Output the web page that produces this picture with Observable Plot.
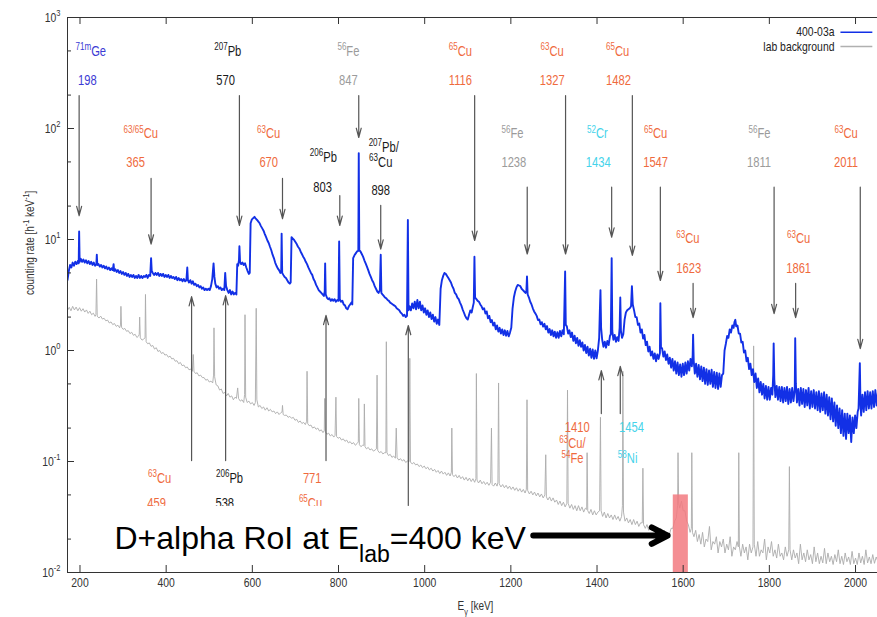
<!DOCTYPE html>
<html>
<head>
<meta charset="utf-8">
<script src="https://cdn.jsdelivr.net/npm/d3@7"></script>
<script src="https://cdn.jsdelivr.net/npm/@observablehq/plot@0.6"></script>
<style>
  html, body { margin: 0; padding: 0; background: #fff; }
</style>
</head>
<body>
<div id="chart"></div>
<script>
// Gamma spectrum of run 400-03a vs. laboratory background, [E (keV), rate (h^-1 keV^-1)]
const run400 = [[171,4.3],[174,5.2],[177,5.9],[180,5.6],[183,6.2],[186,5.8],[189,6.3],[192,6.0],[195,6.4],[197,6.1],[198,11.8],[199.2,6.3],[202,6.7],[205,6.3],[208,6.6],[211,6.2],[214,6.5],[217,6.1],[220,6.4],[223,6.0],[226,6.3],[229,5.9],[232,6.2],[235,5.8],[238,6.0],[239,7.3],[240.2,5.9],[243,6.0],[246,5.7],[249,5.9],[252,5.6],[255,5.8],[258,5.5],[261,5.7],[264,5.4],[267,5.6],[270,5.3],[273,5.5],[276,5.3],[278,6.0],[279.3,5.2],[282,5.4],[285,5.1],[288,5.3],[291,5.0],[294,5.2],[297,4.9],[300,5.1],[303,4.8],[306,5.0],[309,4.7],[312,4.9],[315,4.6],[318,4.8],[321,4.6],[324,4.8],[327,4.5],[330,4.7],[333,4.5],[336,4.8],[339,4.5],[342,4.7],[345,4.5],[348,4.7],[351,4.6],[354,4.8],[357,4.5],[360,4.8],[363,4.7],[365,6.8],[366.5,5.2],[369,5.0],[372,4.8],[375,5.0],[378,4.8],[381,5.0],[384,4.7],[387,4.9],[390,4.7],[393,4.9],[396,4.6],[399,4.8],[402,4.6],[405,4.8],[408,4.5],[411,4.7],[414,4.5],[417,4.6],[420,4.4],[423,4.6],[426,4.3],[429,4.5],[432,4.3],[435,4.4],[438,4.2],[441,4.4],[444,4.2],[447,4.3],[449,5.6],[450.5,4.3],[453,4.1],[456,4.3],[459,4.0],[462,4.2],[465,3.9],[468,4.0],[471,3.8],[474,3.9],[477,3.7],[480,3.8],[483,3.6],[486,3.7],[489,3.5],[492,3.6],[495,3.5],[498,3.6],[501,3.5],[504,3.8],[507,4.4],[510,6.1],[512,4.6],[514,4.0],[517,3.7],[520,3.8],[523,3.6],[526,3.7],[529,3.5],[532,3.6],[535,3.5],[537,5.0],[539,3.8],[542,3.5],[545,3.3],[548,3.5],[551,3.2],[554,3.4],[557,3.2],[560,3.3],[563,3.2],[565,6.0],[567,5.8],[569,6.5],[570,8.7],[571.5,6.3],[574,6.0],[577,6.2],[580,5.9],[583,6.1],[586,5.6],[589,5.2],[592,4.9],[594,5.0],[596,14.0],[599,15.2],[602,15.6],[605,16.0],[608,15.4],[611,15.0],[614,14.5],[617,14.0],[620,13.2],[623,12.6],[626,12.0],[629,11.2],[632,10.5],[635,9.8],[638,9.3],[641,8.6],[644,8.0],[647,7.3],[650,6.8],[653,6.2],[656,5.8],[659,5.5],[662,5.3],[665,5.0],[667,5.1],[668,11.3],[669.3,5.0],[672,4.8],[675,4.6],[678,4.5],[681,4.3],[684,4.1],[687,4.0],[689,4.1],[691,10.5],[694,10.2],[697,9.9],[700,9.5],[703,9.1],[706,8.6],[709,8.3],[712,7.8],[715,7.4],[718,7.0],[721,6.7],[724,6.3],[727,6.0],[730,5.6],[733,5.3],[736,5.0],[739,4.8],[742,4.4],[745,4.2],[748,3.9],[751,3.7],[754,3.5],[757,3.4],[760,3.3],[763,3.2],[766,3.1],[768,3.4],[769,6.1],[770.3,3.2],[773,3.0],[776,2.9],[779,2.95],[782,2.8],[785,2.9],[788,2.8],[791,2.9],[794,2.75],[797,2.85],[800,2.8],[801.5,9.6],[803,2.9],[806,2.75],[809,2.8],[812,2.6],[815,2.55],[818,2.4],[821,2.35],[824,2.5],[827,2.6],[830,2.7],[832,2.6],[834,6.8],[837,7.2],[840,7.5],[843,7.8],[846,7.9],[847,60],[848.3,8.0],[851,7.8],[854,7.4],[857,7.0],[860,6.5],[863,6.1],[866,5.7],[869,5.3],[872,4.9],[875,4.6],[878,4.3],[881,4.1],[884,3.8],[887,3.6],[890,3.4],[893,3.3],[896,3.5],[898,7.3],[899.5,3.3],[902,3.2],[905,3.1],[908,3.0],[911,2.95],[914,2.85],[917,2.8],[920,2.7],[923,2.65],[926,2.6],[929,2.55],[932,2.5],[935,2.4],[938,2.35],[941,2.3],[944,2.2],[947,2.15],[950,2.05],[953,2.1],[956,2.0],[959,2.05],[961,15],[962.5,2.3],[965,2.5],[968,2.3],[971,2.65],[974,2.4],[977,2.75],[980,2.35],[983,2.85],[986,2.4],[989,2.75],[992,2.3],[995,2.55],[998,2.2],[1001,2.4],[1004,2.1],[1007,2.3],[1010,2.0],[1013,2.2],[1016,1.92],[1019,2.1],[1022,1.82],[1025,2.0],[1028,1.74],[1031,1.9],[1034,1.7],[1037,3.6],[1040,4.3],[1043,4.7],[1046,5.0],[1049,4.9],[1052,4.7],[1055,4.5],[1058,4.3],[1061,4.1],[1064,3.8],[1067,3.6],[1070,3.3],[1073,3.2],[1076,3.0],[1079,2.9],[1082,2.7],[1085,2.55],[1088,2.35],[1091,2.2],[1094,2.05],[1097,1.95],[1100,1.9],[1103,2.1],[1106,2.3],[1109,2.2],[1112,2.5],[1114,2.7],[1115.5,7.0],[1117,3.0],[1120,2.9],[1123,2.8],[1126,2.75],[1129,2.6],[1132,2.5],[1135,2.35],[1138,2.4],[1141,2.15],[1144,2.25],[1147,1.95],[1150,2.05],[1153,1.8],[1156,1.88],[1159,1.68],[1162,1.78],[1165,1.55],[1168,1.68],[1171,1.48],[1174,1.6],[1177,1.42],[1180,1.55],[1183,1.38],[1186,1.52],[1189,1.36],[1192,1.5],[1195,1.34],[1198,1.45],[1201,1.6],[1204,2.4],[1207,3.0],[1210,3.4],[1213,3.7],[1216,3.9],[1219,3.85],[1222,3.8],[1225,3.6],[1228,3.5],[1231,3.4],[1234,3.3],[1236,3.4],[1237.5,4.65],[1239,3.2],[1242,3.0],[1245,2.75],[1248,2.6],[1251,2.4],[1254,2.25],[1257,2.15],[1260,2.05],[1263,1.88],[1266,1.9],[1269,1.72],[1272,1.8],[1275,1.64],[1278,1.74],[1281,1.55],[1284,1.66],[1287,1.45],[1290,1.56],[1293,1.38],[1296,1.52],[1299,1.34],[1302,1.48],[1305,1.3],[1308,1.46],[1311,1.3],[1314,1.5],[1317,1.34],[1320,1.52],[1323,1.4],[1326,5.15],[1327.5,1.7],[1330,1.65],[1333,1.42],[1336,1.52],[1339,1.32],[1342,1.45],[1345,1.22],[1348,1.36],[1351,1.16],[1354,1.3],[1357,1.1],[1360,1.24],[1363,1.08],[1366,1.18],[1369,1.0],[1372,1.12],[1375,0.95],[1378,1.08],[1381,0.9],[1384,1.04],[1387,0.86],[1390,1.02],[1393,0.84],[1396,1.0],[1399,0.85],[1402,1.0],[1405,1.3],[1406.5,2.2],[1408,3.5],[1409.5,1.6],[1412,1.25],[1415,1.08],[1418,1.2],[1421,1.06],[1424,1.22],[1427,1.12],[1430,1.35],[1432,1.4],[1434,6.8],[1435.5,1.5],[1438,1.25],[1441,1.38],[1444,1.2],[1447,1.32],[1450,1.22],[1452.5,1.6],[1454,3.0],[1455.5,1.5],[1458,1.3],[1461,1.4],[1464,1.9],[1467,2.2],[1470,2.3],[1473,2.35],[1476,2.4],[1479,2.5],[1481,3.8],[1483,2.6],[1486,2.3],[1489,2.0],[1492,2.0],[1495,1.7],[1498,1.75],[1501,1.45],[1504,1.55],[1507,1.28],[1510,1.38],[1513,1.12],[1516,1.2],[1519,0.98],[1522,1.08],[1525,0.9],[1528,0.98],[1531,0.84],[1534,0.94],[1537,0.8],[1540,0.92],[1543,0.84],[1546,0.95],[1547,2.67],[1548.5,1.05],[1551,1.05],[1554,0.88],[1557,0.98],[1560,0.82],[1563,0.92],[1566,0.76],[1569,0.86],[1572,0.7],[1575,0.84],[1578,0.66],[1581,0.8],[1584,0.62],[1587,0.78],[1590,0.6],[1593,0.75],[1596,0.58],[1599,0.76],[1602,0.6],[1605,0.78],[1608,0.62],[1611,0.8],[1614,0.66],[1617,0.84],[1620,0.72],[1622,0.9],[1623,1.39],[1624.5,0.8],[1627,0.62],[1630,0.76],[1633,0.58],[1636,0.74],[1639,0.55],[1642,0.72],[1645,0.53],[1648,0.7],[1651,0.5],[1654,0.68],[1657,0.49],[1660,0.66],[1663,0.5],[1666,0.67],[1669,0.47],[1672,0.64],[1675,0.46],[1678,0.63],[1681,0.45],[1684,0.62],[1687,0.47],[1690,0.6],[1693,0.62],[1696,1.0],[1699,1.15],[1702,1.35],[1705,1.3],[1708,1.55],[1711,1.45],[1714,1.68],[1717,1.6],[1719,1.8],[1721,1.89],[1723,1.65],[1726,1.68],[1729,1.42],[1732,1.42],[1735,1.18],[1738,1.2],[1741,0.96],[1744,1.0],[1747,0.8],[1750,0.86],[1753,0.68],[1756,0.76],[1759,0.6],[1762,0.68],[1765,0.52],[1768,0.62],[1771,0.46],[1774,0.56],[1777,0.42],[1780,0.52],[1783,0.4],[1786,0.5],[1789,0.37],[1792,0.48],[1795,0.36],[1798,0.47],[1801,0.36],[1804,0.46],[1807,0.4],[1809,0.6],[1810,1.16],[1811.5,0.55],[1814,0.38],[1817,0.48],[1820,0.36],[1823,0.47],[1826,0.35],[1829,0.47],[1832,0.34],[1835,0.46],[1838,0.35],[1841,0.47],[1844,0.33],[1847,0.45],[1850,0.34],[1853,0.46],[1856,0.35],[1859,0.45],[1860,1.29],[1861.5,0.5],[1864,0.34],[1867,0.45],[1870,0.32],[1873,0.46],[1876,0.33],[1879,0.45],[1882,0.31],[1885,0.44],[1888,0.32],[1891,0.46],[1894,0.3],[1897,0.43],[1900,0.31],[1903,0.44],[1906,0.3],[1909,0.42],[1912,0.29],[1915,0.43],[1918,0.28],[1921,0.41],[1924,0.29],[1927,0.42],[1930,0.27],[1933,0.4],[1936,0.26],[1939,0.38],[1942,0.24],[1945,0.37],[1948,0.23],[1951,0.34],[1954,0.21],[1957,0.32],[1960,0.2],[1963,0.3],[1966,0.18],[1969,0.29],[1972,0.17],[1975,0.27],[1978,0.16],[1981,0.27],[1984,0.18],[1987,0.26],[1990,0.15],[1993,0.25],[1996,0.18],[1999,0.26],[2002,0.2],[2005,0.28],[2007,0.3],[2010,0.77],[2011.5,0.33],[2013,0.26],[2016,0.4],[2019,0.28],[2022,0.42],[2025,0.29],[2028,0.43],[2031,0.3],[2034,0.42],[2037,0.3],[2040,0.43],[2043,0.31],[2046,0.44],[2049,0.32],[2052,0.42]];

const labBackground = [[171,2.3],[175,2.45],[179,2.28],[183,2.5],[187,2.32],[191,2.46],[195,2.28],[199,2.43],[203,2.26],[207,2.38],[211,2.22],[215,2.32],[219,2.16],[223,2.26],[227,2.1],[231,2.17],[235,2.03],[237,2.1],[238.5,4.4],[240,2.04],[244,1.96],[248,2.04],[252,1.92],[256,1.95],[260,1.85],[264,1.88],[268,1.77],[272,1.81],[276,1.71],[280,1.75],[284,1.65],[288,1.69],[292,1.6],[294,1.7],[295,2.5],[296.5,1.62],[300,1.55],[304,1.58],[308,1.49],[312,1.51],[316,1.42],[320,1.46],[324,1.37],[328,1.4],[332,1.31],[336,1.35],[337.5,1.4],[338.5,2.0],[340,1.3],[344,1.24],[348,1.27],[351,1.3],[352,3.2],[353.5,1.2],[357,1.15],[361,1.17],[365,1.09],[369,1.11],[373,1.03],[377,1.06],[381,0.98],[385,1.0],[389,0.94],[393,0.96],[397,0.91],[401,0.92],[405,0.87],[409,0.89],[413,0.84],[417,0.85],[421,0.8],[425,0.81],[429,0.76],[433,0.78],[437,0.73],[441,0.74],[445,0.7],[449,0.71],[453,0.67],[457,0.68],[461,0.65],[463,0.92],[464.5,0.65],[468,0.62],[472,0.63],[476,0.59],[480,0.6],[484,0.57],[488,0.57],[492,0.54],[496,0.55],[500,0.52],[504,0.53],[508,0.51],[510,0.6],[511,1.6],[512.5,0.58],[516,0.49],[520,0.48],[524,0.44],[528,0.45],[532,0.41],[536,0.42],[540,0.39],[544,0.41],[548,0.38],[552,0.39],[556,0.36],[560,0.38],[563,0.37],[566,0.46],[568,0.37],[572,0.35],[576,0.36],[580,0.34],[582,0.4],[583,2.1],[584.5,0.38],[588,0.34],[592,0.35],[596,0.33],[600,0.34],[604,0.32],[607,0.34],[609,2.4],[610.5,0.36],[614,0.31],[618,0.32],[622,0.3],[626,0.31],[630,0.29],[634,0.305],[638,0.285],[642,0.295],[646,0.28],[650,0.285],[654,0.27],[658,0.28],[662,0.265],[666,0.275],[669,0.28],[670,0.32],[671.5,0.265],[675,0.26],[679,0.262],[683,0.25],[687,0.255],[691,0.245],[695,0.25],[699,0.235],[703,0.24],[707,0.225],[711,0.232],[715,0.22],[719,0.225],[723,0.215],[726,0.23],[727,0.65],[728.5,0.22],[732,0.21],[736,0.213],[740,0.2],[744,0.205],[748,0.195],[752,0.2],[756,0.188],[760,0.193],[764,0.182],[767,0.19],[768,0.37],[769.5,0.185],[773,0.176],[777,0.18],[781,0.17],[785,0.175],[789,0.166],[792,0.172],[794,0.38],[795.5,0.168],[799,0.162],[803,0.165],[807,0.156],[811,0.16],[815,0.152],[819,0.156],[823,0.147],[827,0.151],[831,0.144],[835,0.148],[839,0.14],[843,0.145],[846,0.15],[847,0.37],[848.5,0.142],[852,0.136],[856,0.14],[859,0.14],[860,0.33],[861.5,0.136],[865,0.13],[869,0.134],[873,0.127],[877,0.13],[881,0.124],[885,0.127],[888,0.13],[889.5,0.6],[891,0.126],[895,0.12],[899,0.123],[903,0.117],[907,0.12],[910,0.12],[911,1.2],[912.5,0.12],[916,0.113],[920,0.116],[924,0.109],[928,0.112],[932,0.107],[934,0.2],[936,0.108],[940,0.103],[944,0.106],[948,0.101],[952,0.104],[956,0.098],[960,0.101],[964,0.1],[965.5,0.85],[967,0.099],[971,0.095],[975,0.098],[979,0.093],[983,0.095],[987,0.09],[991,0.093],[995,0.088],[999,0.091],[1003,0.086],[1007,0.089],[1011,0.084],[1015,0.087],[1019,0.082],[1023,0.085],[1027,0.08],[1031,0.083],[1035,0.078],[1039,0.082],[1043,0.077],[1047,0.08],[1051,0.075],[1055,0.079],[1059,0.074],[1062,0.08],[1063,0.2],[1064.5,0.076],[1068,0.073],[1072,0.076],[1076,0.071],[1080,0.075],[1084,0.07],[1088,0.073],[1092,0.068],[1096,0.072],[1100,0.067],[1104,0.071],[1108,0.066],[1112,0.07],[1116,0.065],[1119,0.07],[1120,0.62],[1121.5,0.068],[1125,0.064],[1129,0.068],[1133,0.063],[1137,0.066],[1141,0.062],[1145,0.065],[1149,0.061],[1153,0.065],[1155,0.2],[1156.5,0.062],[1160,0.06],[1164,0.064],[1168,0.06],[1170,0.065],[1171.5,0.51],[1173,0.063],[1177,0.059],[1181,0.062],[1185,0.058],[1189,0.061],[1193,0.057],[1197,0.06],[1201,0.056],[1205,0.059],[1209,0.055],[1213,0.058],[1217,0.054],[1221,0.057],[1225,0.053],[1229,0.056],[1233,0.052],[1236,0.056],[1237.5,0.36],[1239,0.055],[1243,0.051],[1247,0.054],[1251,0.05],[1255,0.053],[1259,0.049],[1263,0.052],[1267,0.048],[1271,0.051],[1275,0.047],[1279,0.05],[1281,0.115],[1282.5,0.048],[1286,0.045],[1290,0.048],[1294,0.044],[1298,0.047],[1302,0.043],[1306,0.045],[1310,0.041],[1314,0.044],[1318,0.04],[1322,0.043],[1326,0.039],[1330,0.042],[1331.5,0.44],[1333,0.042],[1337,0.038],[1341,0.041],[1345,0.037],[1349,0.04],[1353,0.036],[1357,0.04],[1361,0.036],[1365,0.039],[1369,0.035],[1373,0.038],[1376,0.037],[1377,0.12],[1378.5,0.036],[1382,0.034],[1386,0.037],[1390,0.033],[1394,0.036],[1398,0.033],[1402,0.035],[1406,0.036],[1408,0.25],[1409.5,0.036],[1413,0.032],[1417,0.035],[1421,0.031],[1425,0.034],[1429,0.031],[1433,0.033],[1437,0.03],[1441,0.033],[1445,0.03],[1449,0.032],[1453,0.029],[1457,0.032],[1459,0.04],[1460,0.65],[1461.5,0.035],[1465,0.029],[1469,0.031],[1473,0.028],[1477,0.03],[1481,0.027],[1485,0.03],[1489,0.027],[1493,0.029],[1497,0.026],[1501,0.028],[1505,0.028],[1506.5,0.087],[1508,0.027],[1512,0.025],[1516,0.027],[1520,0.024],[1524,0.026],[1528,0.024],[1532,0.026],[1536,0.023],[1540,0.025],[1544,0.022],[1548,0.025],[1552,0.022],[1556,0.024],[1560,0.021],[1564,0.023],[1568,0.022],[1572,0.025],[1576,0.025],[1580,0.029],[1584,0.031],[1587,0.04],[1588,0.12],[1589.5,0.042],[1592,0.038],[1596,0.044],[1600,0.036],[1604,0.036],[1608,0.029],[1612,0.027],[1616,0.023],[1619,0.025],[1620,0.12],[1621.5,0.023],[1625,0.021],[1629,0.024],[1633,0.019],[1637,0.022],[1641,0.018],[1645,0.023],[1649,0.017],[1653,0.02],[1657,0.019],[1661,0.026],[1665,0.016],[1669,0.019],[1673,0.018],[1677,0.021],[1681,0.015],[1685,0.019],[1689,0.017],[1693,0.02],[1697,0.015],[1701,0.018],[1705,0.016],[1709,0.021],[1713,0.014],[1717,0.017],[1721,0.016],[1725,0.019],[1728,0.017],[1729,0.12],[1730.5,0.017],[1734,0.014],[1738,0.018],[1742,0.015],[1746,0.017],[1750,0.013],[1754,0.018],[1758,0.015],[1762,0.017],[1763.5,1.1],[1765,0.018],[1769,0.014],[1773,0.019],[1777,0.014],[1781,0.016],[1785,0.015],[1789,0.02],[1793,0.013],[1797,0.017],[1801,0.015],[1805,0.019],[1809,0.014],[1813,0.016],[1817,0.0135],[1821,0.018],[1825,0.014],[1829,0.015],[1833,0.013],[1837,0.017],[1841,0.014],[1845,0.016],[1846.5,0.09],[1848,0.016],[1852,0.013],[1856,0.016],[1860,0.0135],[1864,0.015],[1868,0.012],[1872,0.018],[1876,0.013],[1880,0.015],[1884,0.0125],[1888,0.016],[1892,0.013],[1896,0.0145],[1900,0.012],[1904,0.017],[1908,0.0125],[1912,0.015],[1916,0.012],[1920,0.014],[1924,0.0122],[1928,0.0165],[1932,0.012],[1936,0.015],[1940,0.0125],[1944,0.014],[1948,0.0118],[1952,0.0145],[1956,0.0125],[1960,0.016],[1964,0.012],[1968,0.014],[1972,0.0118],[1976,0.015],[1980,0.0125],[1984,0.0138],[1988,0.0118],[1992,0.0155],[1996,0.012],[2000,0.0135],[2004,0.0118],[2008,0.015],[2012,0.0122],[2016,0.014],[2020,0.0118],[2024,0.016],[2028,0.0122],[2032,0.0138],[2036,0.012],[2040,0.0145],[2044,0.0121],[2048,0.0138],[2052,0.0125]];

// Axis ticks
const xTicks = [200, 400, 600, 800, 1000, 1200, 1400, 1600, 1800, 2000];
const yDecades = [0.01, 0.1, 1, 10, 100, 1000];
const yMinor = [0.02, 0.05, 0.2, 0.5, 2, 5, 20, 50, 200, 500];

// Line identifications: arrows pointing down onto the spectrum [E (keV), from rate, to rate]
const downArrows = [[198,198,16.4],[570,198,13.4],[847,198,83],[1116,198,9.8],[1327,198,7.4],[1482,198,7.2],
  [365,35.5,9.1],[670,35.5,15.4],[803,24.9,13.4],[898,20.3,8.2],[1238,29.6,7.4],[1434,29.6,10.5],
  [1547,29.6,4.27],[1811,29.6,2.15],[2011,29.6,1.04],[1623,4.02,1.98],[1861,4.02,1.98]];
// Arrows pointing up from labels below the spectrum [E (keV), from rate, to rate]
const upArrows = [[459,0.102,3.06],[538,0.102,3.12],[771,0.102,2.07],[962,0.04,1.68],[1410,0.27,0.66],[1454,0.27,0.72]];

// Label texts [text, E position (keV), rate position, colour group]
const lineLabels = [
  ["^{71m}Ge",225,494,"ge"],["198",217,270,"ge"],
  ["^{207}Pb",543,494,"pb"],["570",538,270,"pb"],
  ["^{56}Fe",823,494,"fe"],["847",823,270,"fe"],
  ["^{65}Cu",1083,494,"cu"],["1116",1083,270,"cu"],
  ["^{63}Cu",1296,494,"cu"],["1327",1296,270,"cu"],
  ["^{65}Cu",1448,494,"cu"],["1482",1450,270,"cu"],
  ["^{63/65}Cu",341,90,"cu"],["365",329,49.4,"cu"],
  ["^{63}Cu",638,90,"cu"],["670",638,49.4,"cu"],
  ["^{206}Pb",765,55.2,"pb"],["803",763,29.6,"pb"],
  ["^{207}Pb/",905,67.9,"pb"],["^{63}Cu",898,49.7,"pb"],["898",898,27.6,"pb"],
  ["^{56}Fe",1204,90,"fe"],["1238",1207,49.4,"fe"],
  ["^{52}Cr",1401,90,"cr"],["1434",1403,49.4,"cr"],
  ["^{65}Cu",1536,90,"cu"],["1547",1536,49.4,"cu"],
  ["^{56}Fe",1777,90,"fe"],["1811",1776,49.4,"fe"],
  ["^{63}Cu",1978,90,"cu"],["2011",1978,49.4,"cu"],
  ["^{63}Cu",1611,10.2,"cu"],["1623",1613,5.52,"cu"],
  ["^{63}Cu",1868,10.2,"cu"],["1861",1868,5.52,"cu"],
  ["^{63}Cu",385,0.0703,"cu"],["459",378,0.0419,"cu"],
  ["^{206}Pb",547,0.0703,"pb"],["538",536,0.0419,"pb"],
  ["771",739,0.0703,"cu"],["^{65}Cu",735,0.0419,"cu"],
  ["1410",1354,0.204,"cu"],["^{63}Cu/",1343,0.145,"cu"],["^{54}Fe",1343,0.106,"cu"],
  ["1454",1480,0.204,"cr"],["^{58}Ni",1471,0.106,"cr"]
];
const groupColor = {ge: "#3b3bd4", pb: "#1a1a1a", fe: "#9b9b9b", cu: "#ef6a3d", cr: "#45d3ea"};

// Region of interest for D(alpha,gamma) at E_lab = 400 keV
const roi = {e1: 1577, e2: 1612, r1: 0.01, r2: 0.05};
const roiNote = {text: "D+alpha RoI at E_{lab}=400 keV", e: 280, rate: 0.0203, arrowFrom: 1252, arrowTo: 1564, arrowRate: 0.0215};
const noteBox = {e1: 237, e2: 1258, r1: 0.0117, r2: 0.0394};

// Legend entries [label, colour, rate]
const legend = [["400-03a", "#1230e6", 738], ["lab background", "#b0b0b0", 548]];
const legendSpan = [1965, 2039];

const sans = "'Liberation Sans', Arial, Helvetica, sans-serif";
const plotH = 617 - 17 - 45, plotW = 877 - 67;

const chart = Plot.plot({
  width: 877,
  height: 617,
  marginLeft: 67,
  marginRight: 0,
  marginTop: 17,
  marginBottom: 45,
  x: {type: "linear", domain: [171, 2051], axis: null},
  y: {type: "log", domain: [0.01, 1000], axis: null},
  color: {type: "identity"},
  style: {fontFamily: sans, background: "white", color: "#222", overflow: "visible"},
  marks: [
    // spectra
    Plot.line(labBackground, {x: d => d[0], y: d => d[1], stroke: "#ababab", strokeWidth: 0.9, clip: true}),
    Plot.line(run400, {x: d => d[0], y: d => d[1], stroke: "#1230e6", strokeWidth: 1.9, clip: true}),
    // region of interest
    Plot.rect([roi], {x1: "e1", x2: "e2", y1: "r1", y2: "r2", fill: "#f27a80", fillOpacity: 0.85}),
    // identification arrows
    Plot.arrow(downArrows, {x1: d => d[0], x2: d => d[0], y1: d => d[1], y2: d => d[2],
      stroke: "#555", strokeWidth: 1.2, headLength: 12, headAngle: 30}),
    Plot.arrow(upArrows, {x1: d => d[0], x2: d => d[0], y1: d => d[1], y2: d => d[2],
      stroke: "#555", strokeWidth: 1.2, headLength: 12, headAngle: 30}),
    Plot.text(lineLabels, {x: d => d[1], y: d => d[2], text: d => d[0], fill: d => groupColor[d[3]],
      fontSize: 14}),
    // note box with the RoI annotation
    Plot.rect([noteBox], {x1: "e1", x2: "e2", y1: "r1", y2: "r2", fill: "white"}),
    Plot.text([roiNote], {x: "e", y: "rate", text: "text", textAnchor: "start", fontSize: 32,
      fill: "black", className: "note"}),
    Plot.arrow([roiNote], {x1: "arrowFrom", x2: "arrowTo", y1: "arrowRate", y2: "arrowRate",
      stroke: "black", strokeWidth: 6, headLength: 4.5, headAngle: 55}),
    // legend
    Plot.text(legend, {x: legendSpan[0], y: d => d[2], text: d => d[0], textAnchor: "end", dx: -6,
      fontSize: 13, fill: "#222"}),
    Plot.link(legend, {x1: legendSpan[0], x2: legendSpan[1], y1: d => d[2], y2: d => d[2],
      stroke: d => d[1], strokeWidth: 1.5}),
    // frame (right side lies beyond the view)
    Plot.ruleX([171], {stroke: "#333", strokeWidth: 1}),
    Plot.ruleY([0.01, 1000], {stroke: "#333", strokeWidth: 1}),
    // inward ticks
    Plot.ruleX(xTicks, {insetTop: plotH - 7, stroke: "#333"}),
    Plot.ruleX(xTicks, {insetBottom: plotH - 7, stroke: "#333"}),
    Plot.ruleY(yDecades, {insetRight: plotW - 7, stroke: "#333"}),
    Plot.ruleY(yMinor, {insetRight: plotW - 4, stroke: "#333"}),
    // tick labels
    Plot.text(xTicks, {x: d => d, text: d => String(d), frameAnchor: "bottom", dy: 14, fontSize: 13, fill: "#333"}),
    Plot.text(yDecades, {y: d => d, text: d => "10^{" + Math.round(Math.log10(d)) + "}", frameAnchor: "left",
      textAnchor: "end", dx: -7, fontSize: 13, fill: "#333"}),
    // axis titles
    Plot.text(["counting rate [h^{-1} keV^{-1}]"], {text: d => d, frameAnchor: "left", dx: -38, rotate: -90,
      fontSize: 12.5, fill: "#333"}),
    Plot.text(["E_{γ} [keV]"], {text: d => d, frameAnchor: "bottom", dx: 3, dy: 37, fontSize: 12.5, fill: "#333"})
  ]
});

// Render ^{...} and _{...} as superscript / subscript tspans
d3.select(chart).selectAll("text").each(function () {
  const s = this.textContent;
  if (!/[\^_]\{/.test(s)) return;
  const el = d3.select(this);
  el.selectAll("*").remove();
  el.text(null);
  const re = /([\^_])\{([^}]*)\}|([^\^_]+)/g;
  let m;
  while ((m = re.exec(s))) {
    if (m[3] !== undefined) {
      el.append("tspan").text(m[3]);
    } else {
      el.append("tspan")
        .attr("baseline-shift", m[1] === "^" ? "super" : "sub")
        .attr("font-size", "72%")
        .text(m[2]);
    }
  }
});

// Condensed lettering for the small labels (narrow Helvetica look)
d3.select(chart).selectAll("text").each(function () {
  if (this.closest(".note")) return;
  const x = this.getAttribute("x"), y = this.getAttribute("y");
  let t = this.getAttribute("transform") || "";
  if (x !== null && !isNaN(+x)) { t += ` translate(${+x},0)`; this.removeAttribute("x"); }
  if (y !== null && !isNaN(+y)) { t += ` translate(0,${+y})`; this.removeAttribute("y"); }
  this.setAttribute("transform", (t + " scale(0.8,1)").trim());
});

document.getElementById("chart").appendChild(chart);
</script>
</body>
</html>
